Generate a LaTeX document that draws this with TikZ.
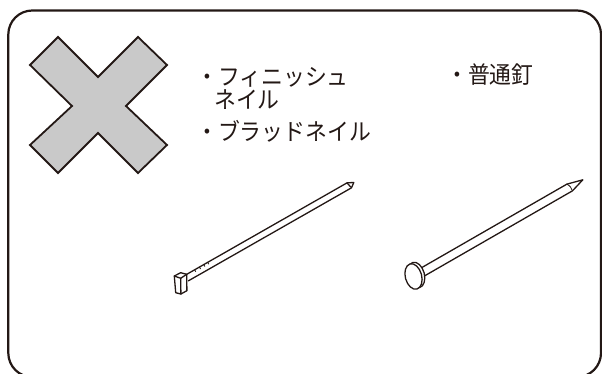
\documentclass[tikz,border=0pt]{standalone}
\usepackage{fontspec}
\newfontfamily\jp{Noto Sans CJK JP}
\definecolor{ink}{HTML}{231815}
\definecolor{xgray}{HTML}{C9C9C9}
\begin{document}
\begin{tikzpicture}[x=1pt,y=-1pt,
  frame/.style={draw=ink,line width=2.2pt,rounded corners=24pt},
  cross/.style={draw=ink,fill=xgray,line width=1.8pt,line join=miter},
  nail/.style={draw=ink,line width=1.3pt,line join=round,line cap=round},
  label/.style={text=ink,inner sep=0pt,anchor=west,xscale=0.93,
    font=\jp\fontsize{23.5}{28}\selectfont}]
\useasboundingbox (0,0) rectangle (602,374);

% outer panel
\draw[frame] (8.3,10.5) rectangle (601,377);

% prohibition cross
\draw[cross] (58,37) -- (98,77) -- (138,37) -- (167,65) -- (126,106)
  -- (167,145) -- (138,173) -- (98,133) -- (58,173) -- (30,145)
  -- (72,106) -- (30,65) -- cycle;

% labels
\node[label] (fin) at (196,77.5) {・フィニッシュ};
\node[label] (fin2) at (214,100) {ネイル};
\node[label] (brad) at (196,131.7) {・ブラッドネイル};
\node[label] (common) at (446,74.7) {・普通釘};

% finish nail: shaft along its own axis
\begin{scope}[shift={(186.7,278)},rotate=29.7]
  \draw[nail] (0,-3.2) -- (186.4,-3.2) -- (192.5,-0.2) -- (187.8,3.3) -- (0,3.3);
  \draw[nail] (186.4,-3.2) -- (187.6,2.4);
  \foreach \t in {11,16.5,21.5,26}
    \draw[nail,line width=0.9pt] (\t,-3.2) -- (\t,-1.2);
\end{scope}
% finish nail: small box head
\filldraw[nail,fill=white] (174.3,276) -- (180.7,272.7) -- (186.7,274.3)
  -- (186.9,290.7) -- (180.9,294) -- (175.7,292.7) -- cycle;
\draw[nail] (174.3,276) -- (180.7,278.3) -- (186.7,274.3);
\draw[nail] (180.7,278.3) -- (180.9,294);

% common nail: shaft and point
\begin{scope}[shift={(413.8,277)},rotate=29.9]
  \draw[nail] (0,-4.2) -- (179,-4.2) -- (195,0) -- (180.5,4.4) -- (0,4.4);
  \draw[nail,line width=0.8pt] (179,-4.2) .. controls (181,-1) and (181,1.5) .. (180.5,4.4);
\end{scope}
% common nail: round head with its rim
\filldraw[nail,fill=white,rotate around={15:(416.2,275)}] (416.2,275) ellipse [x radius=8.2, y radius=13];
\filldraw[nail,fill=white,rotate around={15:(413.5,276.5)}] (413.5,276.5) ellipse [x radius=8.2, y radius=13];
\end{tikzpicture}
\end{document}
